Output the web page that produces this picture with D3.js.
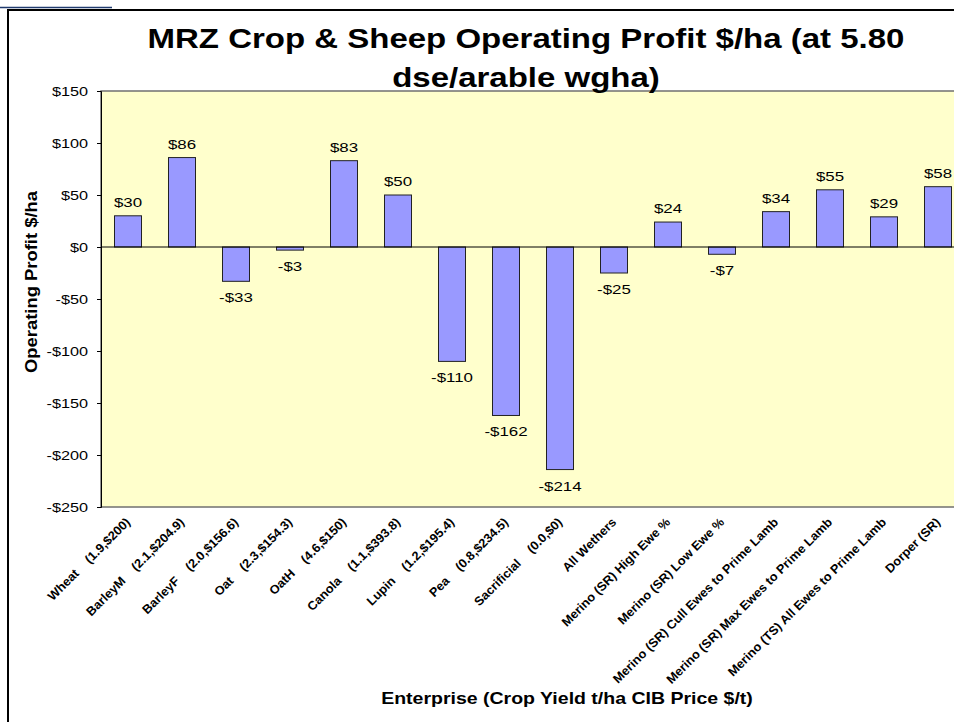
<!DOCTYPE html>
<html>
<head>
<meta charset="utf-8">
<script src="https://cdn.jsdelivr.net/npm/d3@7"></script>
<style>
body { margin: 0; background: #fff; }
svg text { font-family: Arial, "Liberation Sans", sans-serif; }
</style>
</head>
<body>
<div id="chart"></div>
<script>
// enterprise names and the crop yield / price part of each label
var names = ["Wheat", "BarleyM", "BarleyF", "Oat", "OatH", "Canola", "Lupin", "Pea", "Sacrificial",
             "All Wethers", "Merino (SR) High Ewe %", "Merino (SR) Low Ewe %",
             "Merino (SR) Cull Ewes to Prime Lamb", "Merino (SR) Max Ewes to Prime Lamb",
             "Merino (TS) All Ewes to Prime Lamb", "Dorper (SR)"];
var cropInfo = ["(1.9,$200)", "(2.1,$204.9)", "(2.0,$156.6)", "(2.3,$154.3)", "(4.6,$150)",
                "(1.1,$393.8)", "(1.2,$195.4)", "(0.8,$234.5)", "(0.0,$0)",
                "", "", "", "", "", "", ""];
var profit = [30, 86, -33, -3, 83, 50, -110, -162, -214, -25, 24, -7, 34, 55, 29, 58];
var yTicks = [150, 100, 50, 0, -50, -100, -150, -200, -250];

var W = 954, H = 722;
var sx = 1.25; // the excel fonts render wider than plain arial
var svg = d3.select("#chart").append("svg")
			.attr("width", W)
			.attr("height", H);

// outer frame
svg.append("line").attr("x1", 0).attr("x2", 112).attr("y1", 7.5).attr("y2", 7.5)
   .style("stroke", "#1f3a6e").style("stroke-width", 1.5);
svg.append("path")
   .attr("d", "M 8 " + H + " L 8 10 L " + W + " 10")
   .style("fill", "none").style("stroke", "#000").style("stroke-width", 2);

var plot = {left: 101, top: 91, bottom: 507, band: 54};

var x = d3.scaleBand()
		  .domain(names)
		  .range([plot.left, plot.left + plot.band * names.length])
		  .paddingInner(0.5)
		  .paddingOuter(0.25);

var y = d3.scaleLinear()
		  .domain([-250, 150])
		  .range([plot.bottom, plot.top]);

// plot area
svg.append("rect")
   .attr("x", plot.left)
   .attr("y", plot.top)
   .attr("width", plot.band * names.length + 10)
   .attr("height", plot.bottom - plot.top)
   .style("fill", "#ffffcc")
   .style("stroke", "#707070")
   .style("stroke-width", 1.5);

var fmt = function(v){ return (v < 0 ? "-$" : "$") + Math.abs(v); };

// y axis
var yAxis = svg.append("g")
			   .attr("transform", "translate(" + plot.left + ",0)")
			   .call(d3.axisLeft(y).tickValues(yTicks).tickSize(4).tickFormat(fmt));
yAxis.select(".domain").style("stroke", "#000");
yAxis.selectAll("line").style("stroke", "#000");
yAxis.selectAll("text")
	 .attr("x", -13 / sx)
	 .attr("transform", "scale(" + sx + ",1)")
	 .style("font-size", "13px").style("fill", "#000");

// bars
svg.selectAll("rect.bar")
   .data(profit)
   .enter().append("rect")
   .attr("class", "bar")
   .attr("x", function(d, i){ return x(names[i]); })
   .attr("width", x.bandwidth())
   .attr("y", function(d){ return y(Math.max(0, d)); })
   .attr("height", function(d){ return Math.abs(y(d) - y(0)); })
   .style("fill", "#9999ff")
   .style("stroke", "#222")
   .style("stroke-width", 1);

// zero line
svg.append("line")
   .attr("x1", plot.left).attr("x2", W)
   .attr("y1", y(0)).attr("y2", y(0))
   .style("stroke", "#000").style("stroke-width", 1);

// data labels
svg.selectAll("text.val")
   .data(profit)
   .enter().append("text")
   .attr("class", "val")
   .attr("transform", function(d, i){
		var cx = x(names[i]) + x.bandwidth() / 2;
		var cy = d >= 0 ? y(d) - 9 : y(d) + 21;
		return "translate(" + cx + "," + cy + ") scale(" + sx + ",1)";
   })
   .attr("text-anchor", "middle")
   .style("font-size", "13.5px")
   .text(fmt);

// category labels, rotated
svg.selectAll("text.cat")
   .data(names)
   .enter().append("text")
   .attr("class", "cat")
   .attr("text-anchor", "end")
   .attr("transform", function(d){
		var cx = x(d) + x.bandwidth() / 2 + 3;
		return "translate(" + cx + ",523) rotate(-45) scale(1.03,1)";
   })
   .style("font-size", "12.4px")
   .style("font-weight", "bold")
   .style("white-space", "pre")
   .text(function(d, i){ return cropInfo[i] ? d + "    " + cropInfo[i] : d; });

// titles
var title = svg.append("text")
			   .attr("text-anchor", "middle")
			   .attr("transform", "translate(526,0) scale(1.2,1)")
			   .style("font-size", "27.5px")
			   .style("font-weight", "bold");
title.append("tspan").attr("x", 0).attr("y", 48).text("MRZ Crop & Sheep Operating Profit $/ha (at 5.80");
title.append("tspan").attr("x", 0).attr("y", 87).text("dse/arable wgha)");

svg.append("text")
   .attr("transform", "translate(567,704) scale(1.22,1)")
   .attr("text-anchor", "middle")
   .style("font-size", "16px")
   .style("font-weight", "bold")
   .text("Enterprise (Crop Yield t/ha CIB Price $/t)");

svg.append("text")
   .attr("transform", "translate(37,282) rotate(-90) scale(1.15,1)")
   .attr("text-anchor", "middle")
   .style("font-size", "16px")
   .style("font-weight", "bold")
   .text("Operating Profit $/ha");
</script>
</body>
</html>
